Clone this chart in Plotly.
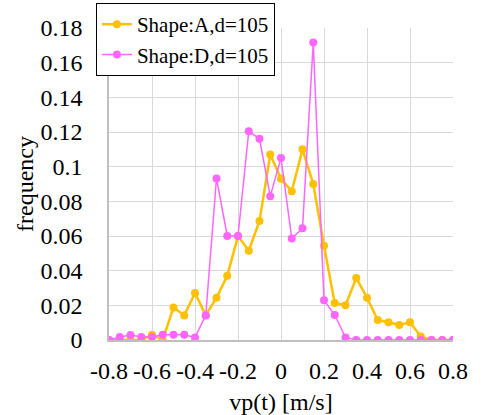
import plotly.graph_objects as go

# velocity bins [m/s]
vp = [-0.8, -0.75, -0.7, -0.65, -0.6, -0.55, -0.5, -0.45, -0.4, -0.35, -0.3,
      -0.25, -0.2, -0.15, -0.1, -0.05, 0.0, 0.05, 0.1, 0.15, 0.2, 0.25, 0.3,
      0.35, 0.4, 0.45, 0.5, 0.55, 0.6, 0.65, 0.7, 0.75, 0.8]

freq_a = [0.0, 0.0, 0.0, 0.0, 0.003, 0.0, 0.0188, 0.0142, 0.0271, 0.0142, 0.0244,
          0.0371, 0.060, 0.0515, 0.0687, 0.107, 0.093, 0.0858, 0.110, 0.090, 0.0544,
          0.0213, 0.020, 0.0358, 0.0244, 0.0115, 0.0102, 0.0087, 0.0102, 0.002,
          0.0, 0.0, 0.0]

freq_d = [0.0, 0.0017, 0.0029, 0.0017, 0.0017, 0.003, 0.003, 0.003, 0.0015, 0.0142,
          0.0932, 0.060, 0.060, 0.1204, 0.1161, 0.083, 0.105, 0.0586, 0.0644, 0.1717,
          0.0229, 0.0144, 0.0015, 0.0, 0.0, 0.0, 0.0, 0.0, 0.0, 0.0, 0.0, 0.0, 0.0]

x_ticks = [-0.8, -0.6, -0.4, -0.2, 0.0, 0.2, 0.4, 0.6, 0.8]
x_labels = ["-0.8", "-0.6", "-0.4", "-0.2", "0", "0.2", "0.4", "0.6", "0.8"]
y_ticks = [0, 0.02, 0.04, 0.06, 0.08, 0.1, 0.12, 0.14, 0.16, 0.18]
y_labels = ["0", "0.02", "0.04", "0.06", "0.08", "0.1", "0.12", "0.14", "0.16", "0.18"]

FONT = "Times New Roman, Liberation Serif, DejaVu Serif, serif"

fig = go.Figure()
fig.add_trace(go.Scatter(
    x=vp, y=freq_a, mode="lines+markers", name="Shape:A,d=105",
    line=dict(color="#FFC000", width=2.5),
    marker=dict(color="#FFC000", size=8),
))
fig.add_trace(go.Scatter(
    x=vp, y=freq_d, mode="lines+markers", name="Shape:D,d=105",
    line=dict(color="#FF66FF", width=1.5),
    marker=dict(color="#FF66FF", size=8),
))

fig.update_layout(
    width=486, height=415,
    margin=dict(l=109, r=33, t=27.5, b=74.7, autoexpand=False),
    paper_bgcolor="white", plot_bgcolor="white",
    font=dict(family=FONT, size=24, color="black"),
    showlegend=True,
    legend=dict(
        x=-0.038, y=1.08, xanchor="left", yanchor="top",
        bgcolor="white", bordercolor="black", borderwidth=1,
        font=dict(family=FONT, size=21, color="black"),
        tracegroupgap=0, itemwidth=30,
    ),
    xaxis=dict(
        range=[-0.8, 0.8], tickvals=x_ticks, ticktext=x_labels,
        tickfont=dict(family=FONT, size=24, color="black"),
        showgrid=True, gridcolor="#d9d9d9", gridwidth=1,
        showline=True, linecolor="#bfbfbf", linewidth=1.5,
        zeroline=False, ticks="", ticklabelstandoff=8, automargin=False,
        title=dict(text="vp(t) [m/s]", font=dict(family=FONT, size=24, color="black")),
    ),
    yaxis=dict(
        range=[0, 0.18], tickvals=y_ticks, ticktext=y_labels,
        tickfont=dict(family=FONT, size=24, color="black"),
        showgrid=True, gridcolor="#d9d9d9", gridwidth=1,
        showline=True, linecolor="#bfbfbf", linewidth=1.5,
        zeroline=False, ticks="", ticklabelstandoff=20, automargin=False,
        title=dict(text="frequency", font=dict(family=FONT, size=24, color="black"),
                   standoff=0),
    ),
)

fig.write_html("out.html")
